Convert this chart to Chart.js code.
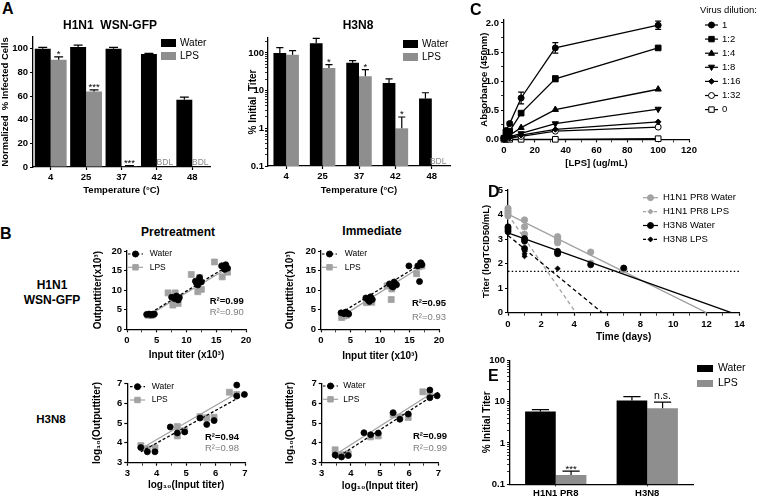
<!DOCTYPE html>
<html>
<head>
<meta charset="utf-8">
<script src="https://cdn.jsdelivr.net/npm/chart.js@4.4.1/dist/chart.umd.min.js"></script>
<style>
  html, body { margin: 0; padding: 0; background: #fff; }
  #fig { position: relative; width: 760px; height: 499px; overflow: hidden; font-family: "Liberation Sans", Arial, sans-serif; color: #000; }
  #fig canvas { position: absolute; }
  .t { position: absolute; white-space: pre; line-height: 1; }
</style>
</head>
<body>
<div id="fig"></div>
<script>
const FONT = '"Liberation Sans", Arial, sans-serif';
const GRAY = '#8e8e8e';
const LGRAY = '#a2a2a2';
Chart.defaults.font.family = FONT;
Chart.defaults.color = '#000';

// ---- A: temperature stability ----
const tempLabels = ['4', '25', '37', '42', '48'];
const wsnWater = [100, 101.5, 100, 95.6, 56.8];
const wsnWaterErr = [1.3, 1.6, 1.2, 0.5, 2.3];
const wsnLps = [90.8, 63.9, 0.6, null, null];
const wsnLpsErr = [2.4, 1.4, 0.5, 0, 0];
const wsnLpsMarks = ['*', '***', '***', 'BDL', 'BDL'];
const pctTicks = [0, 20, 40, 60, 80, 100];

const h3Water = [100, 180, 55, 16, 6.2];
const h3WaterErr = [38, 65, 8, 4.5, 2.6];
const h3Lps = [90, 40, 24, 1.0, null];
const h3LpsErr = [25, 9, 12, 1.0, 0];
const h3LpsMarks = ['', '*', '*', '*', 'BDL'];
const decadeTicks = [0.1, 1, 10, 100];

// ---- B: input vs output titer ----
const preWsnWaterX = [3.3, 3.7, 4.0, 4.4, 4.6, 7.5, 8.0, 8.3, 8.8, 8.6, 11.5, 11.9, 12.2, 12.5, 11.7, 15.9, 16.3, 16.6, 16.9, 16.4];
const preWsnWaterY = [3.8, 3.9, 3.7, 3.8, 3.9, 8.2, 7.8, 8.5, 8.1, 7.5, 12.3, 11.3, 13.2, 12.1, 11.7, 16.2, 15.8, 16.5, 15.6, 15.3];
const preWsnLpsX = [3.5, 4.0, 4.3, 6.9, 8.1, 7.7, 8.6, 8.3, 10.8, 11.9, 12.5, 12.2, 14.7, 16.0, 16.9, 16.3];
const preWsnLpsY = [3.6, 3.5, 3.7, 9.3, 9.3, 6.2, 6.6, 7.9, 14.0, 9.6, 10.2, 13.2, 17.2, 13.4, 14.6, 16.3];
const preWsnFitWater = [[3.3, 3.6], [16.9, 16.1]];
const preWsnFitLps = [[3.5, 3.5], [16.9, 15.6]];

const immWsnWaterX = [3.4, 3.9, 4.2, 4.5, 4.7, 7.6, 8.0, 8.4, 8.7, 8.2, 11.6, 12.0, 12.4, 12.8, 12.2, 14.9, 16.4, 16.7, 16.9, 17.1];
const immWsnWaterY = [4.2, 4.0, 4.4, 4.1, 3.9, 8.0, 7.5, 8.3, 7.6, 7.1, 11.6, 11.0, 12.1, 11.4, 10.8, 16.2, 16.2, 12.2, 17.0, 16.5];
const immWsnLpsX = [3.5, 3.9, 4.3, 4.0, 7.7, 8.2, 8.6, 8.0, 11.2, 12.0, 11.9, 12.5, 16.2, 16.6, 17.1, 16.9];
const immWsnLpsY = [3.0, 3.4, 3.6, 3.9, 6.8, 7.2, 6.9, 7.6, 11.1, 10.3, 7.6, 11.3, 14.2, 16.0, 16.2, 16.7];
const immWsnFitWater = [[3.4, 4.2], [17.1, 16.8]];
const immWsnFitLps = [[3.5, 3.3], [17.1, 16.1]];

const preH3WaterX = [3.46, 3.68, 3.94, 4.46, 4.7, 4.95, 5.47, 5.7, 5.95, 6.72, 6.72, 6.98];
const preH3WaterY = [3.76, 3.55, 3.55, 4.8, 4.5, 4.55, 5.25, 4.93, 5.12, 6.91, 6.36, 6.44];
const preH3LpsX = [3.46, 3.68, 3.94, 4.7, 4.7, 4.95, 5.47, 5.7, 5.95, 6.47, 6.72];
const preH3LpsY = [3.86, 3.7, 3.75, 4.82, 4.35, 4.62, 5.32, 5.26, 5.29, 6.55, 6.44];
const preH3FitWater = [[3.46, 3.55], [7.0, 6.45]];
const preH3FitLps = [[3.46, 3.7], [6.72, 6.5]];

const immH3WaterX = [3.46, 3.68, 3.91, 4.45, 4.68, 4.94, 5.45, 5.68, 5.97, 6.71, 6.71, 6.96];
const immH3WaterY = [3.39, 3.29, 3.36, 4.51, 4.41, 4.49, 5.52, 5.19, 5.45, 6.66, 6.27, 6.37];
const immH3LpsX = [3.46, 3.68, 3.91, 4.68, 4.94, 5.45, 5.68, 5.97, 6.47, 6.71];
const immH3LpsY = [3.65, 3.4, 3.45, 4.3, 4.35, 5.42, 5.3, 5.28, 6.57, 6.4];
const immH3FitWater = [[3.46, 3.2], [7.0, 6.55]];
const immH3FitLps = [[3.46, 3.4], [6.72, 6.45]];

// ---- C: LPS dose response ----
const lpsConc = [0, 1.23, 3.7, 11.1, 33.3, 100];
const dilNames = ['1', '1:2', '1:4', '1:8', '1:16', '1:32', '0'];
const absDil1 = [0.02, 0.15, 0.27, 0.71, 1.57, 1.96];
const absDil1Err = [0, 0, 0.03, 0.1, 0.09, 0.07];
const absDil2 = [0.02, 0.08, 0.14, 0.45, 1.04, 1.57];
const absDil2Err = [0, 0, 0, 0.03, 0.05, 0.02];
const absDil4 = [0.01, 0.04, 0.07, 0.2, 0.51, 0.86];
const absDil8 = [0.01, 0.02, 0.04, 0.1, 0.27, 0.52];
const absDil16 = [0.01, 0.02, 0.03, 0.07, 0.17, 0.3];
const absDil32 = [0.01, 0.01, 0.02, 0.05, 0.14, 0.21];
const absDil0 = [0, 0, 0, 0, 0, 0.01];

// ---- D: titer decay ----
const pr8WaterDay = [0, 0, 0, 0, 1, 1, 1, 1, 3, 3, 3, 3, 5, 5, 7, 7];
const pr8WaterTiter = [4.25, 4.15, 4.05, 3.95, 3.78, 3.5, 3.2, 2.98, 3.1, 3.02, 2.92, 2.85, 2.47, 2.02, 1.8, 1.75];
const pr8LpsDay = [0, 0, 0, 1, 1, 1];
const pr8LpsTiter = [4.1, 4.0, 3.9, 3.05, 2.95, 2.85];
const h3WaterDay = [0, 0, 0, 0, 1, 1, 1, 3, 3, 3, 5, 7];
const h3WaterTiter = [3.5, 3.45, 3.38, 3.3, 3.02, 2.92, 2.62, 2.5, 2.45, 2.4, 1.95, 1.82];
const h3LpsDay = [0, 0, 0, 1, 1, 1, 1, 3];
const h3LpsTiter = [3.5, 3.42, 3.35, 2.58, 2.5, 2.4, 2.3, 1.8];
const pr8WaterFit = [[0, 4.02], [12, 0]];
const pr8LpsFit = [[0, 4.0], [4.1, 0]];
const h3WaterFit = [[0, 3.25], [13.5, 0]];
const h3LpsFit = [[0, 3.15], [5.7, 0]];
const detectLimit = 1.68;

// ---- E: residual titer ----
const virusLabels = ['H1N1 PR8', 'H3N8'];
const resWater = [5.8, 10.6];
const resWaterErr = [0.6, 2.6];
const resLps = [0.168, 6.9];
const resLpsErr = [0.04, 2.8];
const resLpsMarks = ['***', 'n.s.'];

// ---------- helpers ----------
const fig = document.getElementById('fig');
const near = (a, list) => list.some(v => Math.abs(v - a) < 1e-6 * Math.max(1, Math.abs(v)));
const pts = (xs, ys) => xs.map((x, i) => ({ x, y: ys[i] }));
const seg = s => s.map(p => ({ x: p[0], y: p[1] }));
function steps(lo, hi, st) { const o = []; for (let v = lo; v <= hi + 1e-9; v += st) o.push(+v.toFixed(6)); return o; }
function logMinor(lo, hi) {
  const o = [];
  for (let d = lo; d <= hi; d *= 10) for (let m = 1; m < 10; m++) { const v = +(d * m).toPrecision(6); if (v <= hi) o.push(v); }
  return o;
}

function txt(s, x, y, size, weight, color, align) {
  const e = document.createElement('div');
  e.className = 't';
  e.textContent = s;
  e.style.left = x + 'px'; e.style.top = y + 'px';
  e.style.fontSize = size + 'px'; e.style.fontWeight = weight; e.style.color = color || '#000';
  if (align === 'c') e.style.transform = 'translate(-50%,-50%)';
  else if (align === 'l') e.style.transform = 'translate(0,-50%)';
  fig.appendChild(e);
}

function drawMark(c, s, x, y, r, fill, stroke) {
  c.save();
  c.fillStyle = fill; c.strokeStyle = stroke; c.lineWidth = 1; c.setLineDash([]);
  c.beginPath();
  if (s === 'circle') c.arc(x, y, r, 0, Math.PI * 2);
  else if (s === 'rect') c.rect(x - r * 0.85, y - r * 0.85, r * 1.7, r * 1.7);
  else if (s === 'triangle') { c.moveTo(x, y - r * 1.1); c.lineTo(x + r, y + r * 0.7); c.lineTo(x - r, y + r * 0.7); c.closePath(); }
  else if (s === 'triangleDown') { c.moveTo(x, y + r * 1.1); c.lineTo(x + r, y - r * 0.7); c.lineTo(x - r, y - r * 0.7); c.closePath(); }
  else if (s === 'diamond') { c.moveTo(x, y - r); c.lineTo(x + r, y); c.lineTo(x, y + r); c.lineTo(x - r, y); c.closePath(); }
  c.fill(); c.stroke();
  c.restore();
}

function axis(o) {
  const ax = {
    type: o.type || 'linear',
    offset: !!o.offset,
    grid: {
      display: true, drawOnChartArea: false, drawTicks: true, offset: false,
      tickLength: o.tickLen || 3, tickColor: '#000',
      tickWidth: o.major ? (c => near(c.tick.value, o.major) ? 1.2 : 0.8) : 1.2
    },
    border: { display: true, color: '#000', width: 1.3 },
    ticks: { color: '#000', font: { family: FONT, size: o.tickSize || 9.5, weight: 'bold' }, padding: o.tickPad ?? 2, autoSkip: false, maxRotation: 0, minRotation: 0 },
    title: o.title
      ? { display: true, text: o.title, color: '#000', font: { family: FONT, size: o.titleSize || 10, weight: 'bold' }, padding: 0 }
      : { display: false }
  };
  if (o.min !== undefined) ax.min = o.min;
  if (o.max !== undefined) ax.max = o.max;
  if (o.tickVals) {
    ax.afterBuildTicks = s => { s.ticks = o.tickVals.map(v => ({ value: v })); };
    ax.ticks.callback = v => near(v, o.major) ? o.fmt(v) : '';
  }
  return ax;
}

const errorBars = {
  id: 'errorBars',
  afterDatasetsDraw(chart) {
    const c = chart.ctx;
    chart.data.datasets.forEach((ds, di) => {
      if (!ds.errUp) return;
      const meta = chart.getDatasetMeta(di);
      const ys = chart.scales[meta.yAxisID];
      c.save();
      c.strokeStyle = '#000'; c.lineWidth = 1.2;
      meta.data.forEach((el, i) => {
        const raw = ds.data[i];
        const v = raw !== null && typeof raw === 'object' ? raw.y : raw;
        const e = ds.errUp[i];
        if (v == null || !e) return;
        const hw = el.width ? el.width * 0.28 : 3;
        const yT = ys.getPixelForValue(v + e);
        const yB = ds.errBoth ? ys.getPixelForValue(v - e) : ys.getPixelForValue(v);
        c.beginPath();
        c.moveTo(el.x, yB); c.lineTo(el.x, yT);
        c.moveTo(el.x - hw, yT); c.lineTo(el.x + hw, yT);
        if (ds.errBoth) { c.moveTo(el.x - hw, yB); c.lineTo(el.x + hw, yB); }
        c.stroke();
      });
      c.restore();
    });
  }
};

const marksPlugin = {
  id: 'marks',
  afterDatasetsDraw(chart) {
    const c = chart.ctx, ca = chart.chartArea;
    chart.data.datasets.forEach((ds, di) => {
      if (!ds.marks) return;
      const meta = chart.getDatasetMeta(di);
      const ys = chart.scales[meta.yAxisID];
      meta.data.forEach((el, i) => {
        const m = ds.marks[i];
        if (!m) return;
        c.save();
        c.textAlign = 'center'; c.textBaseline = 'alphabetic';
        if (m === 'BDL') {
          c.fillStyle = '#8a8a8a'; c.font = '8.5px ' + FONT;
          c.fillText(m, el.x, ca.bottom - 2);
        } else {
          const yT = ys.getPixelForValue(ds.data[i] + (ds.errUp ? ds.errUp[i] : 0));
          c.fillStyle = '#000';
          if (m[0] === '*') { c.font = '9.5px ' + FONT; c.fillText(m, el.x, yT + 0.5); }
          else { c.font = '10.5px ' + FONT; c.fillText(m, el.x, yT - 3); }
        }
        c.restore();
      });
    });
  }
};

function legendPlugin(cfg, rect) {
  return {
    id: 'pLegend',
    afterDraw(chart) {
      const c = chart.ctx;
      c.save();
      c.textBaseline = 'middle'; c.textAlign = 'left';
      c.font = cfg.font;
      if (cfg.header) { c.fillStyle = '#000'; c.fillText(cfg.header.text, cfg.header.x - rect.l, cfg.header.y - rect.t); }
      cfg.items.forEach((it, i) => {
        const x = cfg.x - rect.l, y = cfg.y + i * cfg.dy - rect.t;
        if (it.box) {
          c.fillStyle = it.color; c.fillRect(x, y - cfg.bh / 2, cfg.bw, cfg.bh);
        } else {
          c.strokeStyle = it.color; c.lineWidth = 1.2; c.setLineDash(it.dash || []);
          c.beginPath(); c.moveTo(x, y); c.lineTo(x + cfg.sw, y); c.stroke();
          c.setLineDash([]);
          if (it.pt) drawMark(c, it.pt, x + cfg.sw / 2, y, it.r || 3, it.fill || it.color, it.color);
        }
        c.fillStyle = '#000'; c.font = cfg.font;
        c.fillText(it.text, x + cfg.tx, y);
      });
      c.restore();
    }
  };
}

function makeChart(rect, plot, cfg, legend) {
  const cv = document.createElement('canvas');
  cv.width = rect.r - rect.l; cv.height = rect.b - rect.t;
  cv.style.left = rect.l + 'px'; cv.style.top = rect.t + 'px';
  cv.style.width = cv.width + 'px'; cv.style.height = cv.height + 'px';
  fig.appendChild(cv);
  cfg.options = Object.assign({
    responsive: false, animation: false, events: [],
    layout: { padding: { left: 0, top: plot.t - rect.t, right: rect.r - plot.r, bottom: 0 } },
    plugins: { legend: { display: false }, tooltip: { enabled: false } }
  }, cfg.options);
  cfg.options.scales.x.afterFit = s => { s.height = rect.b - plot.b; s.paddingLeft = 0; s.paddingRight = 0; };
  cfg.options.scales.y.afterFit = s => { s.width = plot.l - rect.l; s.paddingTop = 0; s.paddingBottom = 0; };
  cfg.plugins = [errorBars, marksPlugin];
  if (legend) cfg.plugins.push(legendPlugin(legend, rect));
  return new Chart(cv, cfg);
}

const barDs = (data, color, err, pct, marks) => ({ data, backgroundColor: color, errUp: err, marks, barPercentage: 1, categoryPercentage: pct, borderWidth: 0 });
const dotDs = (data, color, style, r, extra) => Object.assign({ data, showLine: false, pointStyle: style, pointRadius: r, pointBackgroundColor: color, pointBorderColor: color, pointBorderWidth: 0.8, clip: false }, extra || {});
const fitDs = (data, color, dash, w) => ({ data, showLine: true, borderColor: color, borderWidth: w || 1.3, borderDash: dash || [], pointRadius: 0, clip: false });

// ---------- A: H1N1 WSN-GFP ----------
makeChart({ l: 0, t: 30, r: 215, b: 196 }, { l: 33, t: 37, r: 210, b: 167 }, {
  type: 'bar',
  data: { labels: tempLabels, datasets: [
    barDs(wsnWater, '#000', wsnWaterErr, 0.9),
    barDs(wsnLps, GRAY, wsnLpsErr, 0.9, wsnLpsMarks)
  ]},
  options: { scales: {
    x: axis({ type: 'category', offset: true, title: 'Temperature (°C)', titleSize: 9.5 }),
    y: axis({ min: 0, max: 110, tickVals: pctTicks, major: pctTicks, fmt: v => String(v), title: 'Normalized  % Infected Cells', titleSize: 9.5 })
  }}
}, { x: 161, y: 43, dy: 13, bw: 15, bh: 8, tx: 19, font: '10px ' + FONT,
     items: [{ text: 'Water', box: true, color: '#000' }, { text: 'LPS', box: true, color: GRAY }] });

// ---------- A: H3N8 ----------
makeChart({ l: 247, t: 30, r: 462, b: 196 }, { l: 268, t: 38, r: 450, b: 166 }, {
  type: 'bar',
  data: { labels: tempLabels, datasets: [
    barDs(h3Water, '#000', h3WaterErr, 0.7),
    barDs(h3Lps, GRAY, h3LpsErr, 0.7, h3LpsMarks)
  ]},
  options: { scales: {
    x: axis({ type: 'category', offset: true, title: 'Temperature (°C)', titleSize: 9.5 }),
    y: axis({ type: 'logarithmic', min: 0.1, max: 250, tickVals: logMinor(0.1, 250), major: decadeTicks, fmt: v => String(v), title: '% Initial  Titer', tickPad: 1 })
  }}
}, { x: 403, y: 44, dy: 13, bw: 15, bh: 8, tx: 19, font: '10px ' + FONT,
     items: [{ text: 'Water', box: true, color: '#000' }, { text: 'LPS', box: true, color: GRAY }] });

// ---------- B: scatter panels ----------
const bLegend = (x, y, dy, tx) => ({ x, y, dy, sw: 15, tx, font: '8.5px ' + FONT, items: [
  { text: 'Water', color: '#000', dash: [2.5, 2], pt: 'circle', r: 3 },
  { text: 'LPS', color: LGRAY, pt: 'rect', r: 3.2 }
]});

function bPanel(rect, plot, wx, wy, lx, ly, fw, fl, linear, legend) {
  const xTicks = linear ? steps(0, 20, 2.5) : steps(3, 7, 0.5);
  const xMajor = linear ? steps(0, 20, 5) : steps(3, 7, 1);
  const yTicks = linear ? steps(0, 20, 5) : steps(3, 7, 1);
  makeChart(rect, plot, {
    type: 'scatter',
    data: { datasets: [
      dotDs(pts(wx, wy), '#000', 'circle', 3),
      fitDs(seg(fw), '#000', [3, 2]),
      fitDs(seg(fl), LGRAY),
      dotDs(pts(lx, ly), LGRAY, 'rect', 4.2)
    ]},
    options: { scales: {
      x: axis({ min: linear ? 0 : 3, max: linear ? 20 : 7, tickVals: xTicks, major: xMajor, fmt: v => String(v),
                title: linear ? 'Input titer (x10³)' : 'log₁₀(Input titer)' }),
      y: axis({ min: linear ? 0 : 3, max: linear ? 20 : 7, tickVals: yTicks, major: yTicks, fmt: v => String(v),
                title: linear ? 'Outputtiter(x10³)' : 'log₁₀(Outputtiter)' })
    }}
  }, legend);
}

bPanel({ l: 92, t: 244, r: 253, b: 361 }, { l: 127, t: 251, r: 246, b: 329.3 },
  preWsnWaterX, preWsnWaterY, preWsnLpsX, preWsnLpsY, preWsnFitWater, preWsnFitLps, true, bLegend(128, 254, 13.3, 21.7));
bPanel({ l: 284, t: 244, r: 447, b: 362 }, { l: 321, t: 251, r: 439, b: 329.3 },
  immWsnWaterX, immWsnWaterY, immWsnLpsX, immWsnLpsY, immWsnFitWater, immWsnFitLps, true, bLegend(322, 254, 13.3, 22.7));
bPanel({ l: 91, t: 376, r: 253, b: 491 }, { l: 127.3, t: 383.3, r: 245, b: 462.7 },
  preH3WaterX, preH3WaterY, preH3LpsX, preH3LpsY, preH3FitWater, preH3FitLps, false, bLegend(130, 386.7, 13.3, 21.7));
bPanel({ l: 284, t: 376, r: 447, b: 492 }, { l: 321.7, t: 383.3, r: 438.3, b: 462.7 },
  immH3WaterX, immH3WaterY, immH3LpsX, immH3LpsY, immH3FitWater, immH3FitLps, false, bLegend(323, 386, 13.3, 20.3));

// ---------- C: absorbance vs LPS ----------
const cStyles = [
  { pt: 'circle', cs: 'circle', r: 3, rot: 0, fill: '#000' },
  { pt: 'rect', cs: 'rect', r: 4, rot: 0, fill: '#000' },
  { pt: 'triangle', cs: 'triangle', r: 3.6, rot: 0, fill: '#000' },
  { pt: 'triangleDown', cs: 'triangle', r: 3.6, rot: 180, fill: '#000' },
  { pt: 'diamond', cs: 'rectRot', r: 2.8, rot: 0, fill: '#000' },
  { pt: 'circle', cs: 'circle', r: 3, rot: 0, fill: '#fff' },
  { pt: 'rect', cs: 'rect', r: 4, rot: 0, fill: '#fff' }
];
const cSeries = [absDil1, absDil2, absDil4, absDil8, absDil16, absDil32, absDil0];
const cErrs = [absDil1Err, absDil2Err, null, null, null, null, null];
makeChart({ l: 479, t: 3, r: 760, b: 169 }, { l: 504, t: 20, r: 689, b: 139.3 }, {
  type: 'scatter',
  data: { datasets: cSeries.map((s, k) => ({
    data: pts(lpsConc, s), showLine: true, borderColor: '#000', borderWidth: 1.3,
    pointStyle: cStyles[k].cs, pointRotation: cStyles[k].rot, pointRadius: cStyles[k].r,
    pointBackgroundColor: cStyles[k].fill, pointBorderColor: '#000', pointBorderWidth: 1,
    errUp: cErrs[k] || undefined, errBoth: true, clip: false
  }))},
  options: { scales: {
    x: axis({ min: 0, max: 120, tickVals: steps(0, 120, 10), major: steps(0, 120, 20), fmt: v => String(v), title: '[LPS] (ug/mL)', titleSize: 9.5 }),
    y: axis({ min: 0, max: 2.05, tickVals: steps(0, 2, 0.25), major: steps(0, 2, 0.5), fmt: v => v.toFixed(1), title: 'Absorbance (450nm)', titleSize: 9.5 })
  }}
}, { x: 705, y: 25, dy: 14.1, sw: 13, tx: 17, font: '9.5px ' + FONT,
     header: { text: 'Virus dilution:', x: 700, y: 10 },
     items: dilNames.map((n, k) => ({ text: n, color: '#000', pt: cStyles[k].pt, r: cStyles[k].pt === 'rect' ? 3.2 : (cStyles[k].pt === 'diamond' ? 2.8 : 3), fill: cStyles[k].fill })) });

// ---------- D: titer over time ----------
makeChart({ l: 481, t: 180, r: 758, b: 343 }, { l: 508, t: 190, r: 739.5, b: 312.7 }, {
  type: 'scatter',
  data: { datasets: [
    dotDs(pts(h3WaterDay, h3WaterTiter), '#000', 'circle', 3),
    dotDs(pts(h3LpsDay, h3LpsTiter), '#000', 'rectRot', 2.6),
    fitDs(seg(h3WaterFit), '#000', []),
    fitDs(seg(h3LpsFit), '#000', [4, 3]),
    dotDs(pts(pr8WaterDay, pr8WaterTiter), LGRAY, 'circle', 3.2),
    dotDs(pts(pr8LpsDay, pr8LpsTiter), LGRAY, 'rectRot', 2.6),
    fitDs(seg(pr8WaterFit), LGRAY, []),
    fitDs(seg(pr8LpsFit), LGRAY, [4, 3]),
    fitDs([{ x: 0, y: detectLimit }, { x: 14, y: detectLimit }], '#000', [1.5, 2.2], 1.2)
  ]},
  options: { scales: {
    x: axis({ min: 0, max: 14, tickVals: steps(0, 14, 1), major: steps(0, 14, 2), fmt: v => String(v), title: 'Time (days)', tickPad: 3 }),
    y: axis({ min: 0, max: 5, tickVals: steps(0, 5, 1), major: steps(0, 5, 1), fmt: v => String(v), title: 'Titer (logTCID50/mL)', titleSize: 9.5 })
  }}
}, { x: 643, y: 197.7, dy: 13.9, sw: 15, tx: 20, font: '9.5px ' + FONT, items: [
  { text: 'H1N1 PR8 Water', color: LGRAY, pt: 'circle', r: 3 },
  { text: 'H1N1 PR8 LPS', color: LGRAY, dash: [3, 2.5], pt: 'diamond', r: 2.5 },
  { text: 'H3N8 Water', color: '#000', pt: 'circle', r: 3 },
  { text: 'H3N8 LPS', color: '#000', dash: [3, 2.5], pt: 'diamond', r: 2.5 }
]});

// ---------- E: residual titer ----------
makeChart({ l: 481, t: 352, r: 760, b: 499 }, { l: 510, t: 360.3, r: 693, b: 484.3 }, {
  type: 'bar',
  data: { labels: virusLabels, datasets: [
    barDs(resWater, '#000', resWaterErr, 0.67),
    barDs(resLps, GRAY, resLpsErr, 0.67, resLpsMarks)
  ]},
  options: { scales: {
    x: axis({ type: 'category', offset: true, tickLen: 2, tickPad: 1 }),
    y: axis({ type: 'logarithmic', min: 0.1, max: 100, tickVals: logMinor(0.1, 100), major: decadeTicks, fmt: v => String(v), title: '% Initial Titer' })
  }}
}, { x: 697, y: 368.5, dy: 15, bw: 16, bh: 7, tx: 21, font: '10.5px ' + FONT,
     items: [{ text: 'Water', box: true, color: '#000' }, { text: 'LPS', box: true, color: GRAY }] });

// ---------- text ----------
txt('A', 2, 1, 16, 'bold', '#000', 'tl');
txt('H1N1  WSN-GFP', 110, 25, 12, 'bold', '#000', 'c');
txt('H3N8', 358, 25, 12, 'bold', '#000', 'c');
txt('C', 470, 2, 16, 'bold', '#000', 'tl');
txt('B', 0, 226, 16, 'bold', '#000', 'tl');
txt('Pretreatment', 178, 232, 12, 'bold', '#000', 'c');
txt('Immediate', 372, 231, 12, 'bold', '#000', 'c');
txt('H1N1', 52, 285, 12, 'bold', '#000', 'c');
txt('WSN-GFP', 52, 300, 12, 'bold', '#000', 'c');
txt('H3N8', 51, 420, 11.5, 'bold', '#000', 'c');
txt('D', 488, 184, 16, 'bold', '#000', 'tl');
txt('E', 488, 368, 16, 'bold', '#000', 'tl');
txt('R²=0.99', 209.7, 300.7, 9.5, 'bold', '#000', 'l');
txt('R²=0.90', 209.7, 312.3, 9.5, 'normal', '#7d7d7d', 'l');
txt('R²=0.95', 412, 303.3, 9.5, 'bold', '#000', 'l');
txt('R²=0.93', 412, 316.7, 9.5, 'normal', '#7d7d7d', 'l');
txt('R²=0.94', 205, 436.7, 9.5, 'bold', '#000', 'l');
txt('R²=0.98', 205, 448.3, 9.5, 'normal', '#7d7d7d', 'l');
txt('R²=0.99', 413, 436, 9.5, 'bold', '#000', 'l');
txt('R²=0.99', 413, 448.3, 9.5, 'normal', '#7d7d7d', 'l');
</script>
</body>
</html>
